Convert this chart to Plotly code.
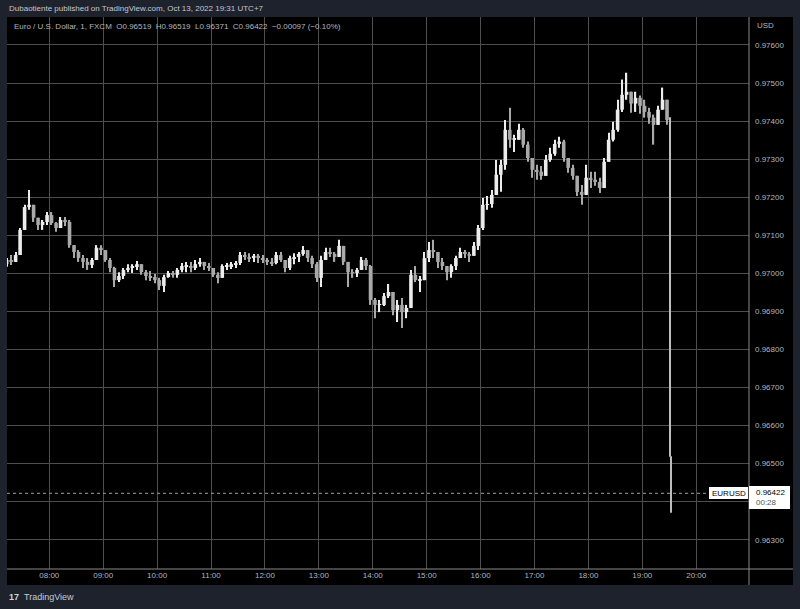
import pandas as pd
import plotly.graph_objects as go

# ---------------- data (EUR/USD, 5-minute bins) ----------------
bin_start = "2022-10-13 07:10"
first_open = 0.97024

highs = [0.97040, 0.97048, 0.97056, 0.97119, 0.97180, 0.97219, 0.97180, 0.97146, 0.97140, 0.97161,
         0.97161, 0.97135, 0.97148, 0.97148, 0.97140, 0.97074, 0.97061, 0.97048, 0.97040, 0.97040,
         0.97074, 0.97074, 0.97061, 0.97040, 0.97017, 0.97003, 0.97014, 0.97024, 0.97024, 0.97032,
         0.97024, 0.97009, 0.97006, 0.96998, 0.96988, 0.96996, 0.97006, 0.97006, 0.97014, 0.97027,
         0.97030, 0.97030, 0.97035, 0.97040, 0.97030, 0.97027, 0.97014, 0.97003, 0.97024, 0.97027,
         0.97030, 0.97032, 0.97056, 0.97056, 0.97053, 0.97051, 0.97051, 0.97048, 0.97040, 0.97040,
         0.97056, 0.97056, 0.97035, 0.97046, 0.97053, 0.97056, 0.97072, 0.97061, 0.97046, 0.97030,
         0.97046, 0.97067, 0.97067, 0.97056, 0.97088, 0.97072, 0.97030, 0.97011, 0.97014, 0.97043,
         0.97040, 0.97022, 0.96935, 0.96930, 0.96948, 0.96972, 0.96951, 0.96930, 0.96935, 0.96917,
         0.97009, 0.97019, 0.96993, 0.97056, 0.97082, 0.97088, 0.97056, 0.97040, 0.97019, 0.97024,
         0.97046, 0.97067, 0.97061, 0.97056, 0.97082, 0.97127, 0.97198, 0.97203, 0.97219, 0.97298,
         0.97298, 0.97403, 0.97435, 0.97364, 0.97393, 0.97382, 0.97346, 0.97303, 0.97285, 0.97282,
         0.97311, 0.97330, 0.97351, 0.97359, 0.97351, 0.97303, 0.97285, 0.97256, 0.97232, 0.97285,
         0.97267, 0.97267, 0.97251, 0.97303, 0.97369, 0.97398, 0.97456, 0.97509, 0.97527, 0.97477,
         0.97477, 0.97467, 0.97456, 0.97435, 0.97417, 0.97440, 0.97488, 0.97456]

lows = [0.97017, 0.97022, 0.97030, 0.97048, 0.97114, 0.97167, 0.97135, 0.97114, 0.97114, 0.97127,
        0.97127, 0.97109, 0.97119, 0.97124, 0.97067, 0.97040, 0.97030, 0.97014, 0.97009, 0.97014,
        0.97035, 0.97048, 0.97030, 0.97003, 0.96964, 0.96977, 0.96985, 0.97003, 0.97001, 0.97009,
        0.96996, 0.96982, 0.96980, 0.96974, 0.96956, 0.96951, 0.96988, 0.96988, 0.96988, 0.97003,
        0.97003, 0.97003, 0.97009, 0.97017, 0.97009, 0.97006, 0.96990, 0.96974, 0.96988, 0.97009,
        0.97011, 0.97014, 0.97022, 0.97035, 0.97030, 0.97030, 0.97027, 0.97027, 0.97022, 0.97019,
        0.97024, 0.97030, 0.97003, 0.97009, 0.97024, 0.97030, 0.97046, 0.97030, 0.97014, 0.96977,
        0.96964, 0.97035, 0.97043, 0.97030, 0.97043, 0.97022, 0.96964, 0.96988, 0.96990, 0.97009,
        0.97009, 0.96917, 0.96882, 0.96898, 0.96914, 0.96935, 0.96890, 0.96872, 0.96856, 0.96882,
        0.96909, 0.96977, 0.96951, 0.96982, 0.97030, 0.97040, 0.97014, 0.97009, 0.96982, 0.96988,
        0.97009, 0.97040, 0.97040, 0.97030, 0.97046, 0.97061, 0.97114, 0.97167, 0.97172, 0.97206,
        0.97214, 0.97272, 0.97330, 0.97319, 0.97351, 0.97330, 0.97293, 0.97251, 0.97246, 0.97246,
        0.97256, 0.97293, 0.97309, 0.97330, 0.97293, 0.97264, 0.97246, 0.97203, 0.97180, 0.97206,
        0.97224, 0.97230, 0.97211, 0.97224, 0.97293, 0.97346, 0.97372, 0.97424, 0.97456, 0.97422,
        0.97424, 0.97419, 0.97409, 0.97393, 0.97338, 0.97390, 0.97430, 0.97390]

closes = [0.97035, 0.97030, 0.97048, 0.97114, 0.97174, 0.97180, 0.97146, 0.97127, 0.97135, 0.97153,
          0.97132, 0.97119, 0.97140, 0.97135, 0.97074, 0.97056, 0.97040, 0.97030, 0.97022, 0.97035,
          0.97067, 0.97061, 0.97035, 0.97014, 0.96982, 0.96993, 0.97009, 0.97014, 0.97019, 0.97024,
          0.97003, 0.96993, 0.96990, 0.96982, 0.96967, 0.96990, 0.97001, 0.96996, 0.97009, 0.97019,
          0.97019, 0.97014, 0.97024, 0.97030, 0.97019, 0.97014, 0.96996, 0.96988, 0.97019, 0.97019,
          0.97024, 0.97027, 0.97048, 0.97043, 0.97040, 0.97046, 0.97040, 0.97035, 0.97030, 0.97027,
          0.97048, 0.97035, 0.97014, 0.97040, 0.97043, 0.97051, 0.97061, 0.97040, 0.97024, 0.96988,
          0.97035, 0.97056, 0.97051, 0.97043, 0.97072, 0.97030, 0.97003, 0.97001, 0.97009, 0.97035,
          0.97019, 0.96930, 0.96917, 0.96917, 0.96940, 0.96951, 0.96903, 0.96917, 0.96898, 0.96909,
          0.96996, 0.96982, 0.96982, 0.97040, 0.97061, 0.97056, 0.97030, 0.97019, 0.97003, 0.97019,
          0.97040, 0.97056, 0.97051, 0.97046, 0.97072, 0.97119, 0.97180, 0.97182, 0.97206, 0.97259,
          0.97285, 0.97377, 0.97351, 0.97351, 0.97377, 0.97338, 0.97303, 0.97272, 0.97267, 0.97256,
          0.97298, 0.97314, 0.97340, 0.97346, 0.97303, 0.97277, 0.97256, 0.97214, 0.97206, 0.97251,
          0.97246, 0.97240, 0.97224, 0.97293, 0.97351, 0.97377, 0.97430, 0.97469, 0.97477, 0.97446,
          0.97461, 0.97440, 0.97424, 0.97409, 0.97390, 0.97430, 0.97456, 0.97403]

opens = [first_open] + closes[:-1]
times = pd.date_range(bin_start, periods=len(closes), freq="5min")

# last two 1-minute candles (flash drop)
last_times = ["2022-10-13 19:30", "2022-10-13 19:31"]
last_open = [0.97403, 0.96519]
last_high = [0.97410, 0.96519]
last_low = [0.96519, 0.96371]
last_close = [0.96519, 0.96422]

last_price = 0.96422
y_ticks = [0.963, 0.964, 0.965, 0.966, 0.967, 0.968, 0.969, 0.970, 0.971, 0.972, 0.973, 0.974, 0.975, 0.976]
# the 0.96400 label sits under the last-price tag in the reference
y_labels = ["0.96300", "", "0.96500", "0.96600", "0.96700", "0.96800", "0.96900", "0.97000",
            "0.97100", "0.97200", "0.97300", "0.97400", "0.97500", "0.97600"]

# ---------------- figure ----------------
W, H = 800, 609
L, R, T, B = 7, 51, 17, 40
pw, ph = W - L - R, H - T - B


def px(xp):
    return (xp - L) / pw


def py(yp):
    return (H - B - yp) / ph


UP, DN = "#ececec", "#a9a9a9"
FONT = "Liberation Sans, Arial, sans-serif"
GRID = "#4e4e4e"
SEP = "#8a8a8a"


def add_candles(fig, x, o, h, l, c, period_ms, body_ms, wick_ms, up=UP, dn=DN):
    cols = [up if ci >= oi else dn for oi, ci in zip(o, c)]
    # wicks (high-low ranges)
    fig.add_trace(go.Bar(
        x=x, base=l, y=[hi - lo for hi, lo in zip(h, l)],
        xperiod=period_ms, xperiodalignment="middle", width=wick_ms,
        marker=dict(color=cols, line=dict(width=0)), hoverinfo="skip", showlegend=False))
    # bodies (open-close)
    fig.add_trace(go.Bar(
        x=x, base=[min(oi, ci) for oi, ci in zip(o, c)],
        y=[max(abs(ci - oi), 0.00002) for oi, ci in zip(o, c)],
        xperiod=period_ms, xperiodalignment="middle", width=body_ms,
        marker=dict(color=cols, line=dict(width=0)), hoverinfo="skip", showlegend=False))


fig = go.Figure()
add_candles(fig, times, opens, highs, lows, closes, 300000, 240000, 80000)
add_candles(fig, last_times, last_open, last_high, last_low, last_close, 60000, 55000, 55000,
            dn="#bdbdbd")

shapes = [
    dict(type="rect", xref="paper", yref="paper", x0=0, x1=px(793), y0=py(585), y1=1,
         fillcolor="#000000", line=dict(width=0), layer="below"),
    dict(type="line", xref="paper", yref="paper", x0=1, x1=1, y0=py(585), y1=1,
         line=dict(color=SEP, width=1), layer="above"),
    dict(type="line", xref="paper", yref="paper", x0=0, x1=px(793), y0=0, y1=0,
         line=dict(color=SEP, width=1), layer="above"),
    dict(type="line", xref="paper", yref="y", x0=0, x1=px(709), y0=last_price, y1=last_price,
         line=dict(color="#a0a0a0", width=1, dash="dot"), layer="above"),
    dict(type="rect", xref="paper", yref="paper", x0=1, x1=px(790), y0=py(509), y1=py(486),
         fillcolor="#ffffff", line=dict(width=0), layer="above"),
    dict(type="rect", xref="paper", yref="paper", x0=px(709), x1=px(748), y0=py(499), y1=py(487),
         fillcolor="#ffffff", line=dict(width=0), layer="above"),
]


def ann(text, x, y, size=8, color="#b2b5be", xanchor="left", yanchor="middle", align="left"):
    return dict(text=text, xref="paper", yref="paper", x=x, y=y, xanchor=xanchor,
                yanchor=yanchor, align=align, showarrow=False,
                font=dict(family=FONT, size=size, color=color))


sp = "\u00a0\u00a0"
annotations = [
    ann("Dubaotiente published on TradingView.com, Oct 13, 2022 19:31 UTC+7", px(7), py(9), 8, "#c3c6ce"),
    ann("Euro / U.S. Dollar, 1, FXCM" + sp + "O0.96519" + sp + "H0.96519" + sp + "L0.96371" + sp +
        "C0.96422" + sp + "\u22120.00097 (\u22120.10%)", px(12), py(27), 8, "#b2b5be"),
    ann("USD", px(755), py(26), 8, "#b2b5be"),
    ann("0.96422<br><span style='color:#555555'>00:28</span>", px(754), py(497.5), 8, "#000000"),
    ann("EURUSD", px(728.5), py(493), 8, "#000000", xanchor="center"),
    ann("<b>17</b>", px(7), py(597), 9, "#d1d4dc"),
    ann("TradingView", px(22), py(597), 9, "#c8cad0"),
]

fig.update_layout(
    width=W, height=H, margin=dict(l=L, r=R, t=T, b=B),
    paper_bgcolor="#1e222d", plot_bgcolor="#000000",
    hovermode=False, showlegend=False, barmode="overlay",
    font=dict(family=FONT, size=8, color="#b2b5be"),
    shapes=shapes, annotations=annotations,
    xaxis=dict(type="date", range=["2022-10-13 07:12:55", "2022-10-13 20:58:44"],
               tick0="2022-10-13 08:00", dtick=3600000, tickformat="%H:%M",
               showgrid=True, gridcolor=GRID, gridwidth=1, zeroline=False, showline=False,
               ticks="", tickfont=dict(family=FONT, size=8, color="#b2b5be"),
               fixedrange=True),
    yaxis=dict(side="right", range=[0.962231, 0.976734], tickvals=y_ticks, ticktext=y_labels,
               showgrid=True, gridcolor=GRID, gridwidth=1,
               zeroline=False, showline=False, ticks="", ticklabelstandoff=5,
               tickfont=dict(family=FONT, size=8, color="#b2b5be"), fixedrange=True),
)

fig.write_html("out.html", config={"displayModeBar": False},
               post_script="document.body.style.margin='0';")
